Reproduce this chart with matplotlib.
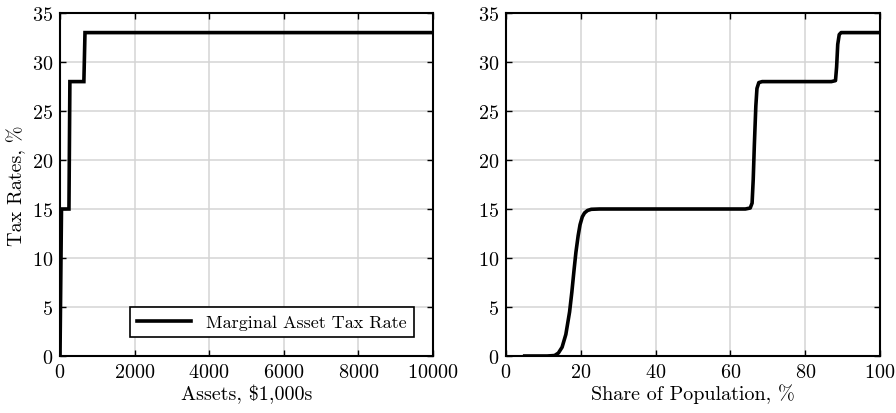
import matplotlib.pyplot as plt

plt.rcParams['font.family'] = 'serif'
plt.rcParams['font.serif'] = ['cmr10']
plt.rcParams['mathtext.fontset'] = 'cm'
plt.rcParams['axes.formatter.use_mathtext'] = True

# Panel izquierdo: tasa marginal sobre activos
activos = [0, 40, 240, 265, 640, 670, 10000]
tasa_marginal = [0, 15, 15, 28, 28, 33, 33]

# Panel derecho: tasa por percentil de poblacion
poblacion = [5, 8, 11, 13, 14, 15, 16, 17, 17.6, 18.2, 18.7, 19.3, 19.8,
             20.4, 21.0, 21.8, 22.8, 25, 30, 40, 50, 60, 64, 65.3, 65.8,
             66.1, 66.4, 66.8, 67.1, 67.6, 68.5, 70, 80, 87, 88.1, 88.4,
             88.7, 89.1, 89.6, 92, 100]
tasa_poblacion = [0, 0, 0, 0.05, 0.3, 0.9, 2.2, 4.5, 6.5, 8.8, 10.6, 12.3,
                  13.4, 14.2, 14.6, 14.85, 14.97, 15, 15, 15, 15, 15, 15,
                  15.1, 15.6, 18, 21.5, 25.5, 27.3, 27.9, 28, 28, 28, 28,
                  28.1, 29.5, 31.8, 32.8, 33, 33, 33]

fig = plt.figure(figsize=(8.96, 4.14), dpi=100)
ax1 = fig.add_axes([60 / 896, 1 - 357 / 414, 373 / 896, 343 / 414])
ax2 = fig.add_axes([506 / 896, 1 - 357 / 414, 374 / 896, 343 / 414])

fs = 14.5

ax1.plot(activos, tasa_marginal, color='black', lw=2.6,
         label='Marginal Asset Tax Rate', solid_joinstyle='miter')
ax1.set_xlim(0, 10000)
ax1.set_xticks([0, 2000, 4000, 6000, 8000, 10000])
ax1.set_xlabel('Assets, \\$1,000s', fontsize=fs, labelpad=2)
ax1.set_ylabel('Tax Rates, %', fontsize=fs, labelpad=4)
leg = ax1.legend(loc='lower right', fontsize=13, fancybox=False,
                 framealpha=1, edgecolor='black', handlelength=3,
                 borderaxespad=0, bbox_to_anchor=(0.948, 0.055))
leg.get_frame().set_linewidth(1.2)

ax2.plot(poblacion, tasa_poblacion, color='black', lw=2.6)
ax2.set_xlim(0, 100)
ax2.set_xticks([0, 20, 40, 60, 80, 100])
ax2.set_xlabel('Share of Population, %', fontsize=fs, labelpad=2)

for ax in (ax1, ax2):
    ax.set_ylim(0, 35)
    ax.set_yticks(range(0, 36, 5))
    ax.grid(True, color='#d4d4d4', lw=1.1)
    ax.set_axisbelow(True)
    ax.tick_params(direction='in', top=True, right=True, labelsize=fs,
                   length=4, width=1, pad=5)
    for s in ax.spines.values():
        s.set_linewidth(1.5)

fig.savefig('out.png', dpi=100)
